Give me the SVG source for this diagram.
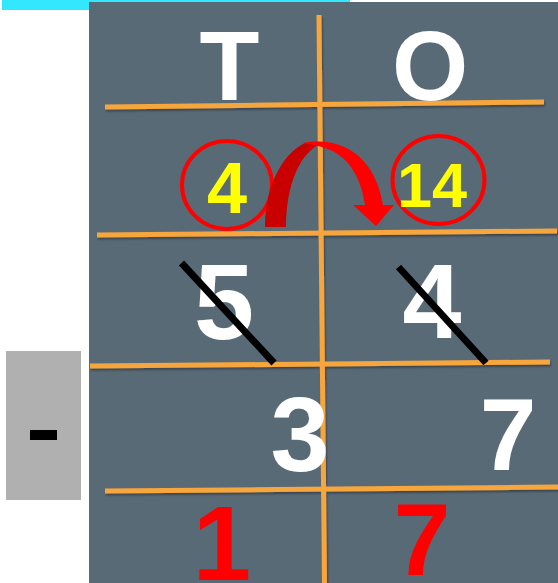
<svg xmlns="http://www.w3.org/2000/svg" width="558" height="583" viewBox="0 0 558 583">
<defs>
<style>
.grid{stroke:#f7a53c;stroke-width:5;fill:none}
.big{font-family:"Liberation Sans",Arial,sans-serif;font-weight:bold;text-anchor:middle}
.w{fill:#ffffff}
.y{fill:#ffff00}
.r{fill:#ff0000}
.strike{stroke:#000000;stroke-width:7}
.ring{fill:none;stroke:#ff0000;stroke-width:4}
</style>
<filter id="sh" x="-5%" y="-50%" width="110%" height="300%">
<feDropShadow dx="1" dy="2" stdDeviation="1.2" flood-color="#000000" flood-opacity="0.35"/>
</filter>
</defs>
<rect x="2" y="0" width="348" height="10" fill="#33e7ff"/>
<rect id="panel" x="89" y="2" width="469" height="581" fill="#596a77"/>
<g id="minus-box">
<rect x="6" y="351" width="75" height="149" fill="#b0b0b0"/>
<rect x="30" y="430" width="27" height="10" fill="#000000"/>
</g>
<g id="connectors" filter="url(#sh)">
<line class="grid" x1="319" y1="15" x2="324.5" y2="583"/>
<line class="grid" x1="105" y1="107" x2="544" y2="102"/>
<line class="grid" x1="97" y1="235" x2="557" y2="231"/>
<line class="grid" x1="90" y1="366" x2="550" y2="362"/>
<line class="grid" x1="105" y1="491" x2="558" y2="487"/>
</g>
<g id="header">
<text class="big w" x="229.5" y="100" font-size="98">T</text>
<text class="big w" x="430" y="100" font-size="98">O</text>
</g>
<g id="carry">
<ellipse class="ring" cx="227" cy="185" rx="45" ry="44"/>
<ellipse class="ring" cx="438.5" cy="180" rx="46" ry="44"/>
<text class="big y" x="227" y="213" font-size="72">4</text>
<text class="big y" x="432" y="207" font-size="63">14</text>
<path d="M265,227 C265,190 280,155 305,143 L322,143 C300,152 286,185 286,227 Z" fill="#c80000"/>
<path d="M303,143 C345,135 376,160 383,205 L394,205 L376,226 L353,205 L365,205 C360,172 345,152 318,146 Z" fill="#ff0000"/>
</g>
<g id="minuend">
<text class="big w" x="224" y="339" font-size="108">5</text>
<text class="big w" x="432" y="338" font-size="106">4</text>
<line class="strike" x1="181.5" y1="263" x2="274" y2="363"/>
<line class="strike" x1="398.5" y1="267" x2="486" y2="363"/>
</g>
<g id="subtrahend">
<text class="big w" x="300" y="471" font-size="106">3</text>
<text class="big w" x="508" y="470" font-size="102">7</text>
</g>
<g id="result">
<text class="big r" x="222" y="580" font-size="105">1</text>
<text class="big r" x="422" y="575" font-size="102">7</text>
</g>
</svg>
